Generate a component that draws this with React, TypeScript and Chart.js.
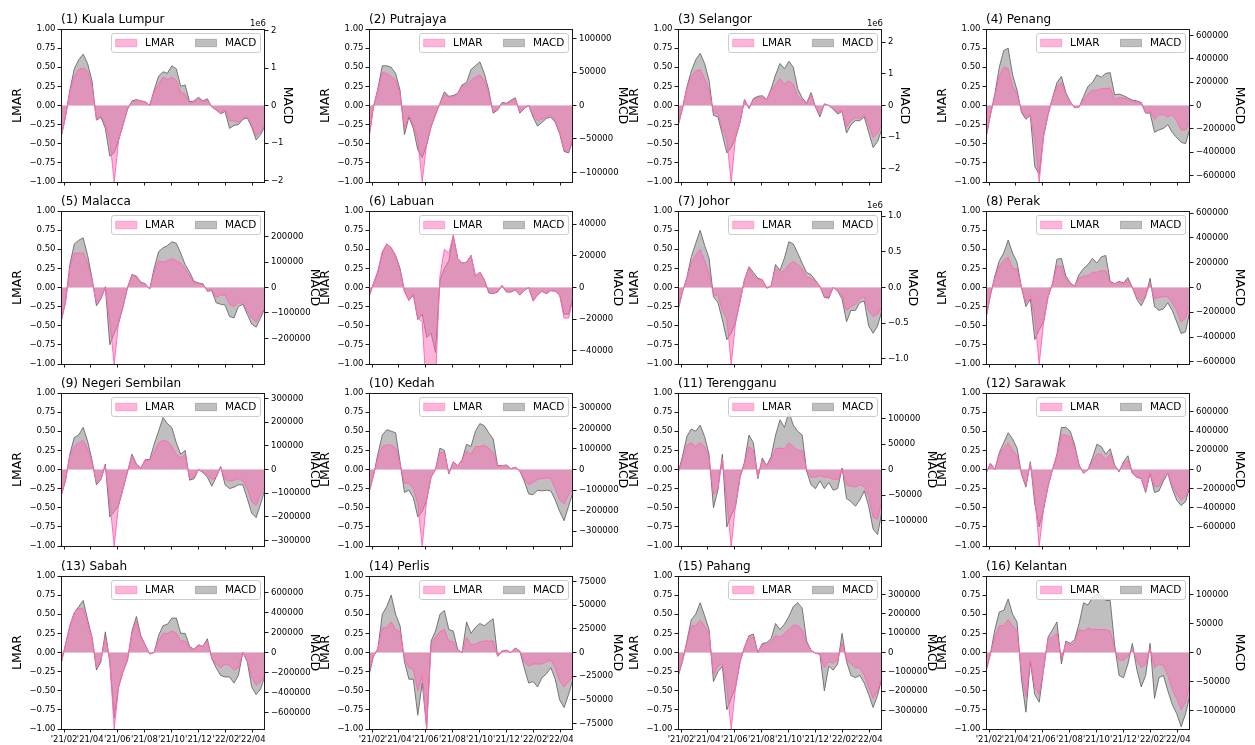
import React, { useEffect, useRef } from "react";
import { Chart, registerables } from "chart.js";

Chart.register(...registerables);
Chart.defaults.font.family = '"DejaVu Sans", sans-serif';
Chart.defaults.color = "#000";

// Sample dates: days since 2021-01-25, every 10 days
const DAY = [0, 10, 20, 30, 40, 50, 60, 70, 80, 90, 100, 110, 120, 130, 140, 150, 160, 170, 180, 190, 200, 210, 220, 230, 240, 250, 260, 270, 280, 290, 300, 310, 320, 330, 340, 350, 360, 370, 380, 390, 400, 410, 420, 430, 440, 450, 460];
const DAY_MAX = 460;
// Month ticks (days since 2021-01-25)
const TICK_DAY = [7, 66, 127, 188, 249, 310, 372, 431];
const TICK_LABEL = ["'21/02", "'21/04", "'21/06", "'21/08", "'21/10", "'21/12", "'22/02", "'22/04"];
const LMAR_TICKS = [-1, -0.75, -0.5, -0.25, 0, 0.25, 0.5, 0.75, 1];

// (1) Kuala Lumpur — MACD in units of 1e6
const KL_LMAR = [-0.42, -0.15, 0.18, 0.38, 0.47, 0.49, 0.45, 0.25, -0.18, -0.13, -0.25, -0.45, -1.0, -0.45, -0.25, -0.05, 0.05, 0.06, 0.06, 0.05, 0.0, 0.18, 0.28, 0.37, 0.34, 0.37, 0.33, 0.17, 0.15, 0.03, 0.05, 0.09, 0.04, 0.07, -0.02, -0.05, -0.1, -0.05, -0.2, -0.2, -0.22, -0.16, -0.15, -0.25, -0.4, -0.35, -0.25];
const KL_MACD = [-0.86, -0.31, 0.41, 0.98, 1.22, 1.37, 1.12, 0.65, -0.39, -0.31, -0.61, -1.35, -1.26, -0.92, -0.51, -0.1, 0.12, 0.16, 0.12, 0.1, 0, 0.41, 0.78, 0.9, 0.86, 1.06, 0.98, 0.51, 0.55, 0.1, 0.12, 0.22, 0.12, 0.18, -0.04, -0.12, -0.22, -0.16, -0.61, -0.53, -0.51, -0.37, -0.33, -0.57, -0.92, -0.78, -0.55];

// (2) Putrajaya
const PUTRAJAYA_LMAR = [-0.42, -0.02, 0.2, 0.43, 0.42, 0.38, 0.33, 0.15, -0.3, -0.13, -0.25, -0.45, -1.0, -0.5, -0.27, -0.12, 0.03, 0.15, 0.11, 0.12, 0.15, 0.25, 0.27, 0.33, 0.37, 0.4, 0.32, 0.15, -0.08, -0.05, 0.03, 0.02, 0.05, 0.08, -0.08, -0.03, 0.0, -0.12, -0.2, -0.18, -0.15, -0.12, -0.2, -0.35, -0.58, -0.6, -0.42];
const PUTRAJAYA_MACD = [-48000, -2300, 25200, 59500, 59500, 57300, 48100, 22900, -43500, -17200, -34400, -66400, -77900, -59500, -32100, -13700, 3400, 20600, 13700, 14900, 18300, 30900, 34400, 53800, 59500, 65300, 48100, 22900, -11500, -6900, 4600, 3400, 8000, 11500, -11500, -4600, 0, -17200, -30900, -25200, -19500, -17200, -25200, -42400, -68700, -71000, -51500];

// (3) Selangor — MACD in units of 1e6
const SELANGOR_LMAR = [-0.27, -0.04, 0.22, 0.38, 0.45, 0.47, 0.35, 0.2, -0.1, -0.1, -0.3, -0.45, -1.0, -0.4, -0.22, 0.08, -0.03, 0.08, 0.1, 0.1, 0.08, 0.2, 0.27, 0.35, 0.28, 0.32, 0.28, 0.12, 0.07, 0.02, 0.14, -0.02, -0.12, 0.02, 0.0, -0.04, -0.09, -0.07, -0.28, -0.2, -0.16, -0.17, -0.12, -0.25, -0.42, -0.36, -0.25];
const SELANGOR_MACD = [-0.65, -0.1, 0.58, 1.09, 1.45, 1.65, 1.33, 0.8, -0.31, -0.36, -0.92, -1.5, -1.33, -1.02, -0.53, 0.19, -0.1, 0.22, 0.29, 0.31, 0.19, 0.53, 0.97, 1.33, 1.16, 1.4, 1.21, 0.53, 0.24, 0.07, 0.41, -0.05, -0.36, 0.05, 0, -0.12, -0.27, -0.19, -0.87, -0.61, -0.48, -0.48, -0.36, -0.85, -1.33, -1.14, -0.73];

// (4) Penang
const PENANG_LMAR = [-0.42, -0.12, 0.12, 0.38, 0.5, 0.48, 0.25, 0.15, -0.07, -0.15, -0.12, -0.45, -1.0, -0.38, -0.12, 0.1, 0.25, 0.3, 0.15, 0.05, -0.03, -0.02, 0.08, 0.15, 0.2, 0.2, 0.22, 0.22, 0.23, 0.08, 0.1, 0.1, 0.08, 0.05, 0.05, 0.03, -0.1, -0.07, -0.18, -0.12, -0.12, -0.15, -0.12, -0.2, -0.32, -0.32, -0.22];
const PENANG_MACD = [-275000, -78000, 98000, 327000, 471000, 490000, 262000, 131000, -59000, -118000, -85000, -523000, -589000, -262000, -78000, 65000, 196000, 249000, 111000, 33000, -20000, -13000, 78000, 164000, 196000, 262000, 242000, 275000, 281000, 92000, 98000, 85000, 65000, 46000, 39000, 26000, -65000, -65000, -229000, -209000, -196000, -164000, -229000, -275000, -314000, -327000, -196000];

// (5) Malacca
const MALACCA_LMAR = [-0.45, -0.2, 0.25, 0.45, 0.45, 0.45, 0.32, 0.1, -0.2, -0.15, 0.0, -0.45, -1.0, -0.45, -0.25, 0.0, 0.16, 0.14, 0.06, 0.04, -0.02, 0.2, 0.35, 0.33, 0.35, 0.38, 0.35, 0.32, 0.25, 0.15, 0.06, 0.05, 0.04, -0.04, -0.03, -0.13, -0.1, -0.1, -0.22, -0.25, -0.2, -0.2, -0.3, -0.4, -0.45, -0.35, -0.25];
const MALACCA_MACD = [-135000, -60000, 90000, 171000, 186000, 195000, 126000, 36000, -72000, -45000, 3000, -225000, -180000, -141000, -75000, 0, 51000, 45000, 21000, 15000, -6000, 75000, 141000, 156000, 165000, 180000, 174000, 135000, 90000, 60000, 24000, 18000, 15000, -15000, -12000, -60000, -66000, -69000, -114000, -120000, -75000, -66000, -105000, -144000, -156000, -120000, -81000];

// (6) Labuan
const LABUAN_LMAR = [-0.13, 0.05, 0.22, 0.47, 0.57, 0.52, 0.4, 0.22, -0.05, -0.17, -0.08, -0.4, -0.45, -1.4, -1.3, -1.2, 0.15, 0.5, 0.45, 0.68, 0.38, 0.32, 0.33, 0.42, 0.15, 0.2, 0.1, -0.05, -0.08, -0.05, 0.03, -0.05, -0.05, -0.03, -0.1, -0.04, 0.0, -0.18, -0.1, -0.05, -0.08, -0.04, -0.05, -0.1, -0.4, -0.4, -0.15];
const LABUAN_MACD = [-5800, 2400, 9700, 21800, 27600, 25200, 20300, 12100, -2400, -8200, -4800, -20300, -16900, -31500, -29000, -41100, 4800, 12100, 16900, 32900, 18400, 15500, 16000, 20300, 7300, 9700, 4800, -3400, -3900, -2900, 1000, -2900, -2900, -1500, -4800, -1900, 0, -8200, -4800, -2400, -3900, -1900, -2400, -4800, -16900, -16900, -6300];

// (7) Johor — MACD in units of 1e6
const JOHOR_LMAR = [-0.3, -0.06, 0.12, 0.32, 0.42, 0.5, 0.35, 0.18, -0.1, -0.1, -0.3, -0.4, -1.0, -0.45, -0.18, 0.1, 0.26, 0.15, 0.1, 0.1, 0.0, 0.02, 0.25, 0.2, 0.22, 0.3, 0.34, 0.3, 0.25, 0.14, 0.12, 0.08, 0.02, -0.12, -0.12, 0.0, -0.05, -0.1, -0.3, -0.25, -0.22, -0.15, -0.12, -0.3, -0.38, -0.35, -0.25];
const JOHOR_MACD = [-0.32, -0.064, 0.14, 0.43, 0.62, 0.8, 0.59, 0.41, -0.13, -0.21, -0.45, -0.73, -0.64, -0.48, -0.19, 0.11, 0.29, 0.21, 0.13, 0.11, -0.01, 0.02, 0.32, 0.24, 0.41, 0.64, 0.61, 0.48, 0.34, 0.21, 0.18, 0.1, 0.02, -0.14, -0.15, 0, -0.05, -0.16, -0.48, -0.32, -0.32, -0.21, -0.19, -0.54, -0.64, -0.54, -0.32];

// (8) Perak
const PERAK_LMAR = [-0.4, -0.1, 0.12, 0.28, 0.35, 0.4, 0.25, 0.24, 0.0, -0.2, -0.1, -0.4, -1.0, -0.45, -0.12, 0.05, 0.28, 0.28, 0.12, 0.05, 0.02, 0.12, 0.15, 0.15, 0.2, 0.2, 0.22, 0.22, 0.06, 0.05, 0.07, 0.05, 0.1, 0.0, -0.12, -0.18, -0.1, 0.05, -0.15, -0.13, -0.12, -0.12, -0.2, -0.3, -0.45, -0.4, -0.22];
const PERAK_MACD = [-247000, -62000, 93000, 216000, 278000, 383000, 278000, 204000, 0, -154000, -93000, -420000, -340000, -278000, -74000, 31000, 228000, 235000, 93000, 37000, 12000, 105000, 154000, 185000, 235000, 198000, 247000, 259000, 49000, 31000, 49000, 37000, 80000, 0, -93000, -148000, -74000, 74000, -154000, -185000, -173000, -124000, -185000, -278000, -371000, -358000, -185000];

// (9) Negeri Sembilan
const NSEMBILAN_LMAR = [-0.35, -0.15, 0.18, 0.3, 0.35, 0.38, 0.27, 0.1, -0.17, -0.13, 0.05, -0.42, -1.0, -0.45, -0.25, -0.03, 0.18, 0.06, 0.02, 0.12, 0.12, 0.22, 0.35, 0.38, 0.37, 0.3, 0.2, 0.15, 0.2, -0.12, -0.1, 0.0, -0.03, -0.07, -0.13, -0.1, 0.03, -0.13, -0.15, -0.14, -0.12, -0.15, -0.25, -0.42, -0.47, -0.33, -0.22];
const NSEMBILAN_MACD = [-113000, -49000, 65000, 136000, 146000, 178000, 120000, 39000, -65000, -42000, 23000, -201000, -178000, -152000, -81000, -10000, 65000, 23000, 6000, 42000, 42000, 107000, 162000, 220000, 194000, 178000, 113000, 65000, 81000, -45000, -39000, 0, -13000, -32000, -71000, -32000, 13000, -65000, -81000, -75000, -65000, -65000, -123000, -185000, -204000, -146000, -84000];

// (10) Kedah
const KEDAH_LMAR = [-0.3, -0.08, 0.15, 0.3, 0.32, 0.32, 0.28, 0.08, -0.18, -0.18, -0.25, -0.45, -1.0, -0.4, -0.1, 0.0, 0.22, 0.22, -0.05, 0.1, 0.05, 0.12, 0.24, 0.2, 0.3, 0.3, 0.32, 0.28, 0.22, 0.04, 0.05, 0.05, 0.01, 0.03, -0.02, -0.12, -0.2, -0.17, -0.13, -0.12, -0.11, -0.12, -0.25, -0.4, -0.45, -0.33, -0.25];
const KEDAH_MACD = [-112000, -30000, 75000, 168000, 194000, 187000, 179000, 37000, -112000, -101000, -138000, -231000, -205000, -149000, -37000, 0, 104000, 93000, -22000, 37000, 19000, 48000, 123000, 112000, 187000, 224000, 213000, 179000, 149000, 19000, 19000, 22000, 4000, 11000, -7000, -56000, -119000, -123000, -101000, -104000, -101000, -104000, -149000, -205000, -250000, -179000, -112000];

// (11) Terengganu
const TERENGGANU_LMAR = [-0.05, 0.13, 0.32, 0.35, 0.3, 0.35, 0.3, 0.15, -0.33, -0.25, 0.15, -0.4, -1.0, -0.45, -0.1, 0.08, 0.3, 0.25, -0.1, 0.12, 0.05, 0.13, 0.27, 0.28, 0.27, 0.35, 0.3, 0.25, 0.25, 0.0, -0.1, -0.1, -0.08, -0.1, -0.1, -0.13, -0.13, 0.0, -0.2, -0.22, -0.23, -0.2, -0.23, -0.35, -0.62, -0.65, -0.4];
const TERENGGANU_MACD = [-7500, 25500, 64500, 79500, 75000, 87000, 64500, 30000, -75000, -40500, 30000, -112500, -90000, -72000, -15000, 15000, 67500, 52500, -18000, 22500, 7500, 25500, 67500, 97500, 82500, 112500, 87000, 75000, 67500, -3000, -30000, -37500, -22500, -37500, -25500, -40500, -37500, 3000, -57000, -63000, -72000, -60000, -42000, -72000, -117000, -127500, -82500];

// (12) Sarawak
const SARAWAK_LMAR = [-0.05, 0.08, 0.0, 0.2, 0.28, 0.35, 0.25, 0.18, -0.05, -0.2, 0.08, -0.35, -1.0, -0.5, -0.22, 0.0, 0.18, 0.45, 0.45, 0.43, 0.28, 0.05, -0.05, 0.0, 0.1, 0.2, 0.2, 0.13, 0.2, 0.05, -0.02, 0.08, 0.12, -0.05, -0.1, -0.12, -0.28, -0.05, -0.22, -0.22, -0.12, -0.05, -0.2, -0.32, -0.4, -0.35, -0.2];
const SARAWAK_MACD = [-40000, 64000, 0, 175000, 278000, 382000, 318000, 223000, -48000, -183000, 80000, -358000, -596000, -413000, -175000, 0, 159000, 437000, 437000, 398000, 254000, 48000, -40000, 0, 119000, 262000, 239000, 159000, 215000, 48000, -24000, 80000, 143000, -40000, -80000, -95000, -239000, -40000, -239000, -223000, -119000, -40000, -199000, -318000, -374000, -334000, -175000];

// (13) Sabah
const SABAH_LMAR = [-0.15, 0.1, 0.35, 0.52, 0.58, 0.57, 0.38, 0.2, -0.2, -0.1, 0.2, -0.1, -1.0, -0.45, -0.25, -0.1, 0.25, 0.4, 0.2, 0.1, -0.02, 0.0, 0.15, 0.25, 0.25, 0.28, 0.25, 0.15, 0.15, 0.06, 0.04, 0.1, 0.08, 0.15, -0.07, -0.15, -0.2, -0.15, -0.17, -0.23, -0.2, 0.0, -0.1, -0.32, -0.43, -0.38, -0.27];
const SABAH_MACD = [-114000, 76000, 267000, 397000, 458000, 519000, 328000, 153000, -175000, -92000, 206000, -92000, -649000, -343000, -191000, -76000, 214000, 359000, 168000, 76000, -15000, 0, 168000, 267000, 282000, 343000, 343000, 191000, 191000, 61000, 31000, 76000, 61000, 137000, -61000, -153000, -229000, -244000, -244000, -305000, -229000, 0, -92000, -343000, -420000, -366000, -229000];

// (14) Perlis
const PERLIS_LMAR = [-0.25, -0.05, 0.05, 0.32, 0.33, 0.4, 0.3, 0.27, -0.08, -0.2, -0.22, -0.5, -0.3, -1.0, 0.1, 0.2, 0.27, 0.3, 0.15, 0.14, 0.03, 0.0, 0.2, 0.1, 0.11, 0.14, 0.15, 0.15, 0.15, -0.05, 0.01, 0.03, 0.0, 0.05, 0.02, -0.12, -0.18, -0.15, -0.15, -0.15, -0.12, -0.1, -0.2, -0.37, -0.45, -0.38, -0.3];
const PERLIS_MACD = [-24200, -4000, 4000, 40300, 48400, 60500, 40300, 28200, -9700, -28200, -28200, -66100, -32200, -79000, 12100, 22600, 40300, 44300, 24200, 22600, 3200, 0, 32200, 20200, 26600, 30600, 28200, 32200, 35500, -4000, 1600, 2400, 0, 4800, 1600, -16100, -32200, -30600, -36300, -26600, -22600, -16100, -28200, -50000, -58000, -44300, -28200];

// (15) Pahang
const PAHANG_LMAR = [-0.3, -0.12, 0.12, 0.35, 0.35, 0.42, 0.35, 0.25, -0.3, -0.17, -0.15, -0.45, -1.0, -0.45, -0.12, 0.07, 0.2, 0.2, 0.0, 0.1, 0.1, 0.14, 0.22, 0.2, 0.25, 0.3, 0.36, 0.35, 0.3, 0.12, 0.03, -0.01, -0.02, -0.2, -0.12, -0.14, -0.1, 0.12, -0.1, -0.15, -0.2, -0.2, -0.3, -0.45, -0.6, -0.5, -0.32];
const PAHANG_MACD = [-126000, -47000, 59000, 170000, 198000, 257000, 190000, 119000, -150000, -99000, -71000, -296000, -237000, -178000, -47000, 28000, 87000, 95000, 0, 47000, 51000, 71000, 150000, 119000, 146000, 186000, 237000, 257000, 229000, 59000, 12000, -4000, -8000, -198000, -71000, -91000, -59000, 99000, -47000, -119000, -130000, -119000, -158000, -217000, -284000, -221000, -130000];

// (16) Kelantan
const KELANTAN_LMAR = [-0.22, -0.02, 0.2, 0.35, 0.35, 0.43, 0.35, 0.28, -0.25, -0.58, -0.1, -0.45, -0.55, -0.2, 0.18, 0.2, 0.25, -0.08, 0.12, 0.1, 0.12, 0.3, 0.28, 0.32, 0.3, 0.3, 0.3, 0.3, 0.28, 0.05, -0.1, -0.1, -0.05, 0.05, -0.1, -0.2, -0.15, 0.05, -0.2, -0.15, -0.17, -0.3, -0.48, -0.6, -0.75, -0.65, -0.42];
const KELANTAN_MACD = [-33000, -2600, 39600, 70000, 72600, 92400, 66000, 52800, -46200, -103000, -15800, -72600, -85800, -29000, 26400, 39600, 52800, -19800, 19800, 15800, 22400, 50200, 85800, 81800, 95000, 100300, 99000, 89800, 89800, 13200, -39600, -43600, -19800, 15800, -29000, -59400, -39600, 15800, -79200, -43600, -39600, -66000, -89800, -105600, -128000, -105600, -72600];

type PanelSpec = {
  title: string;
  lmar: number[];
  macd: number[];
  macdLimit: number;
  macdStep: number;
  macdTickMax: number;
  digits: number;
  exponent?: string;
};

const PANELS: PanelSpec[] = [
  { title: "(1) Kuala Lumpur", lmar: KL_LMAR, macd: KL_MACD, macdLimit: 2.04, macdStep: 1, macdTickMax: 2, digits: 0, exponent: "1e6" },
  { title: "(2) Putrajaya", lmar: PUTRAJAYA_LMAR, macd: PUTRAJAYA_MACD, macdLimit: 114500, macdStep: 50000, macdTickMax: 100000, digits: 0 },
  { title: "(3) Selangor", lmar: SELANGOR_LMAR, macd: SELANGOR_MACD, macdLimit: 2.42, macdStep: 1, macdTickMax: 2, digits: 0, exponent: "1e6" },
  { title: "(4) Penang", lmar: PENANG_LMAR, macd: PENANG_MACD, macdLimit: 654000, macdStep: 200000, macdTickMax: 600000, digits: 0 },
  { title: "(5) Malacca", lmar: MALACCA_LMAR, macd: MALACCA_MACD, macdLimit: 301000, macdStep: 100000, macdTickMax: 200000, digits: 0 },
  { title: "(6) Labuan", lmar: LABUAN_LMAR, macd: LABUAN_MACD, macdLimit: 48400, macdStep: 20000, macdTickMax: 40000, digits: 0 },
  { title: "(7) Johor", lmar: JOHOR_LMAR, macd: JOHOR_MACD, macdLimit: 1.07, macdStep: 0.5, macdTickMax: 1, digits: 1, exponent: "1e6" },
  { title: "(8) Perak", lmar: PERAK_LMAR, macd: PERAK_MACD, macdLimit: 617500, macdStep: 200000, macdTickMax: 600000, digits: 0 },
  { title: "(9) Negeri Sembilan", lmar: NSEMBILAN_LMAR, macd: NSEMBILAN_MACD, macdLimit: 324000, macdStep: 100000, macdTickMax: 300000, digits: 0 },
  { title: "(10) Kedah", lmar: KEDAH_LMAR, macd: KEDAH_MACD, macdLimit: 373000, macdStep: 100000, macdTickMax: 300000, digits: 0 },
  { title: "(11) Terengganu", lmar: TERENGGANU_LMAR, macd: TERENGGANU_MACD, macdLimit: 150000, macdStep: 50000, macdTickMax: 100000, digits: 0 },
  { title: "(12) Sarawak", lmar: SARAWAK_LMAR, macd: SARAWAK_MACD, macdLimit: 795000, macdStep: 200000, macdTickMax: 600000, digits: 0 },
  { title: "(13) Sabah", lmar: SABAH_LMAR, macd: SABAH_MACD, macdLimit: 763000, macdStep: 200000, macdTickMax: 600000, digits: 0 },
  { title: "(14) Perlis", lmar: PERLIS_LMAR, macd: PERLIS_MACD, macdLimit: 80600, macdStep: 25000, macdTickMax: 75000, digits: 0 },
  { title: "(15) Pahang", lmar: PAHANG_LMAR, macd: PAHANG_MACD, macdLimit: 395000, macdStep: 100000, macdTickMax: 300000, digits: 0 },
  { title: "(16) Kelantan", lmar: KELANTAN_LMAR, macd: KELANTAN_MACD, macdLimit: 132000, macdStep: 50000, macdTickMax: 100000, digits: 0 },
];

// Grid geometry (plot-frame positions on the page)
const COL_X = [61, 369, 678, 986];
const ROW_Y = [29, 211, 393, 576];
const PLOT_W = 204;
const PLOT_H = 153;
const PAD_L = 62;
const PAD_R = 76;
const PAD_T = 30;
const PAD_B = 18;

const LMAR_FILL = "rgba(255,105,180,0.5)";
const LMAR_LINE = "rgba(255,105,180,0.95)";
const MACD_FILL = "rgba(128,128,128,0.5)";
const MACD_LINE = "rgba(100,100,100,0.85)";
const INK = "#1a1a1a";
const FONT = '"DejaVu Sans", sans-serif';
const TICK_SIZE = 8.5;
const AXIS_TITLE_SIZE = 12.5;
const LEGEND_SIZE = 10.5;

function fmt(v: number, digits: number): string {
  const s = Math.abs(v).toFixed(digits);
  return v < -1e-9 ? "\u2212" + s : s;
}

function macdTicks(p: PanelSpec): number[] {
  const out: number[] = [];
  const n = Math.round(p.macdTickMax / p.macdStep);
  for (let i = -n; i <= n; i++) out.push(i * p.macdStep);
  return out;
}

function roundedRect(ctx: CanvasRenderingContext2D, x: number, y: number, w: number, h: number, r: number) {
  ctx.beginPath();
  ctx.moveTo(x + r, y);
  ctx.lineTo(x + w - r, y);
  ctx.arcTo(x + w, y, x + w, y + r, r);
  ctx.lineTo(x + w, y + h - r);
  ctx.arcTo(x + w, y + h, x + w - r, y + h, r);
  ctx.lineTo(x + r, y + h);
  ctx.arcTo(x, y + h, x, y + h - r, r);
  ctx.lineTo(x, y + r);
  ctx.arcTo(x, y, x + r, y, r);
  ctx.closePath();
}

function makeDecor(p: PanelSpec) {
  return {
    id: "panelDecor",
    afterDatasetsDraw(chart: any) {
      // Legend box in the upper-right corner, two columns
      const ctx: CanvasRenderingContext2D = chart.ctx;
      const a = chart.chartArea;
      const f = LEGEND_SIZE;
      ctx.save();
      ctx.font = `${f}px ${FONT}`;
      const items = chart.data.datasets.map((d: any) => ({ label: d.label, fill: d.backgroundColor }));
      const pad = 0.4 * f, hl = 2 * f, htp = 0.8 * f, cs = 2 * f;
      const widths = items.map((it: any) => ctx.measureText(it.label).width);
      const w = pad * 2 + items.length * (hl + htp) + widths.reduce((s: number, v: number) => s + v, 0) + cs * (items.length - 1);
      const h = 19;
      const x = Math.round(a.right - 0.45 * f - w) + 0.5;
      const y = Math.round(a.top + 4) + 0.5;
      roundedRect(ctx, x, y, w, h, 2.5);
      ctx.fillStyle = "rgba(255,255,255,0.8)";
      ctx.fill();
      ctx.strokeStyle = "#cccccc";
      ctx.lineWidth = 1;
      ctx.stroke();
      let cx = x + pad;
      const cy = y + h / 2;
      items.forEach((it: any, i: number) => {
        ctx.fillStyle = it.fill;
        ctx.fillRect(cx, cy - 0.35 * f, hl, 0.7 * f);
        ctx.strokeStyle = it.fill;
        ctx.strokeRect(cx, cy - 0.35 * f, hl, 0.7 * f);
        ctx.fillStyle = "#000";
        ctx.textAlign = "left";
        ctx.textBaseline = "middle";
        ctx.fillText(it.label, cx + hl + htp, cy + 0.5);
        cx += hl + htp + widths[i] + cs;
      });
      ctx.restore();
    },
    afterDraw(chart: any) {
      const ctx: CanvasRenderingContext2D = chart.ctx;
      const a = chart.chartArea;
      ctx.save();
      // frame
      ctx.strokeStyle = INK;
      ctx.lineWidth = 1;
      ctx.strokeRect(Math.round(a.left) + 0.5, Math.round(a.top) + 0.5, Math.round(a.right - a.left) - 1, Math.round(a.bottom - a.top));
      // panel title
      ctx.fillStyle = "#000";
      ctx.font = `12px ${FONT}`;
      ctx.textAlign = "left";
      ctx.textBaseline = "alphabetic";
      ctx.fillText(p.title, a.left, a.top - 6);
      // exponent label of the right axis
      if (p.exponent) {
        ctx.font = `${TICK_SIZE}px ${FONT}`;
        ctx.textAlign = "right";
        ctx.fillText(p.exponent, a.right + 1, a.top - 3);
      }
      // axis titles
      const midY = (a.top + a.bottom) / 2;
      ctx.font = `${AXIS_TITLE_SIZE}px ${FONT}`;
      ctx.textAlign = "center";
      ctx.textBaseline = "middle";
      ctx.save();
      ctx.translate(a.left - 43, midY);
      ctx.rotate(-Math.PI / 2);
      ctx.fillText("LMAR", 0, 0);
      ctx.restore();
      ctx.font = `${TICK_SIZE}px ${FONT}`;
      const labels: string[] = chart.scales.y2.ticks.map((t: any) => String(t.label));
      const maxw = Math.max(...labels.map((s) => ctx.measureText(s).width));
      ctx.font = `${AXIS_TITLE_SIZE}px ${FONT}`;
      ctx.save();
      ctx.translate(a.right + maxw + 10, midY);
      ctx.rotate(Math.PI / 2);
      ctx.fillText("MACD", 0, 0);
      ctx.restore();
      ctx.restore();
    },
  };
}

function PanelChart({ spec, row, col }: { spec: PanelSpec; row: number; col: number }) {
  const ref = useRef<HTMLCanvasElement | null>(null);
  const width = PAD_L + PLOT_W + PAD_R;
  const height = PAD_T + PLOT_H + PAD_B;
  const left = COL_X[col] - PAD_L;
  const top = ROW_Y[row] - PAD_T;

  useEffect(() => {
    const canvas = ref.current;
    if (!canvas) return;
    const rightTicks = macdTicks(spec);
    const tickGrid = { display: true, drawOnChartArea: false, drawTicks: true, tickLength: 3.5, color: INK, lineWidth: 1 };
    const chart = new Chart(canvas, {
      type: "line",
      data: {
        datasets: [
          {
            label: "LMAR",
            data: DAY.map((d, i) => ({ x: d, y: spec.lmar[i] })),
            yAxisID: "y",
            borderColor: LMAR_LINE,
            backgroundColor: LMAR_FILL,
            fill: "origin",
            borderWidth: 1,
            pointRadius: 0,
            tension: 0,
          },
          {
            label: "MACD",
            data: DAY.map((d, i) => ({ x: d, y: spec.macd[i] })),
            yAxisID: "y2",
            borderColor: MACD_LINE,
            backgroundColor: MACD_FILL,
            fill: "origin",
            borderWidth: 1,
            pointRadius: 0,
            tension: 0,
          },
        ],
      },
      options: {
        responsive: false,
        animation: false,
        devicePixelRatio: 1,
        events: [],
        layout: { padding: { top: PAD_T, left: 0, right: 0, bottom: 0 } },
        plugins: { legend: { display: false }, tooltip: { enabled: false } },
        scales: {
          x: {
            type: "linear",
            min: 0,
            max: DAY_MAX,
            afterBuildTicks: (s: any) => {
              s.ticks = TICK_DAY.map((v) => ({ value: v }));
            },
            afterFit: (s: any) => {
              s.height = PAD_B;
            },
            ticks: {
              display: row === 3,
              autoSkip: false,
              maxRotation: 0,
              padding: 2,
              color: "#000",
              font: { size: TICK_SIZE },
              callback: (_v: any, i: number) => TICK_LABEL[i],
            },
            grid: tickGrid,
            border: { display: false },
          },
          y: {
            type: "linear",
            position: "left",
            min: -1,
            max: 1,
            afterBuildTicks: (s: any) => {
              s.ticks = LMAR_TICKS.map((v) => ({ value: v }));
            },
            afterFit: (s: any) => {
              s.width = PAD_L;
            },
            ticks: { padding: 2, color: "#000", font: { size: TICK_SIZE }, callback: (v: any) => fmt(Number(v), 2) },
            grid: tickGrid,
            border: { display: false },
          },
          y2: {
            type: "linear",
            position: "right",
            min: -spec.macdLimit,
            max: spec.macdLimit,
            afterBuildTicks: (s: any) => {
              s.ticks = rightTicks.map((v) => ({ value: v }));
            },
            afterFit: (s: any) => {
              s.width = PAD_R;
            },
            ticks: { padding: 2.5, color: "#000", font: { size: TICK_SIZE }, callback: (v: any) => fmt(Number(v), spec.digits) },
            grid: tickGrid,
            border: { display: false },
          },
        },
      } as any,
      plugins: [makeDecor(spec)],
    });
    return () => chart.destroy();
  }, [spec, row, col]);

  return (
    <canvas
      ref={ref}
      width={width}
      height={height}
      style={{ position: "absolute", left, top, width, height }}
    />
  );
}

export default function App() {
  return (
    <div
      style={{
        position: "fixed",
        left: 0,
        top: 0,
        width: 1255,
        height: 745,
        overflow: "hidden",
        background: "#ffffff",
      }}
    >
      {PANELS.map((p, i) => (
        <PanelChart key={p.title} spec={p} row={Math.floor(i / 4)} col={i % 4} />
      ))}
    </div>
  );
}
